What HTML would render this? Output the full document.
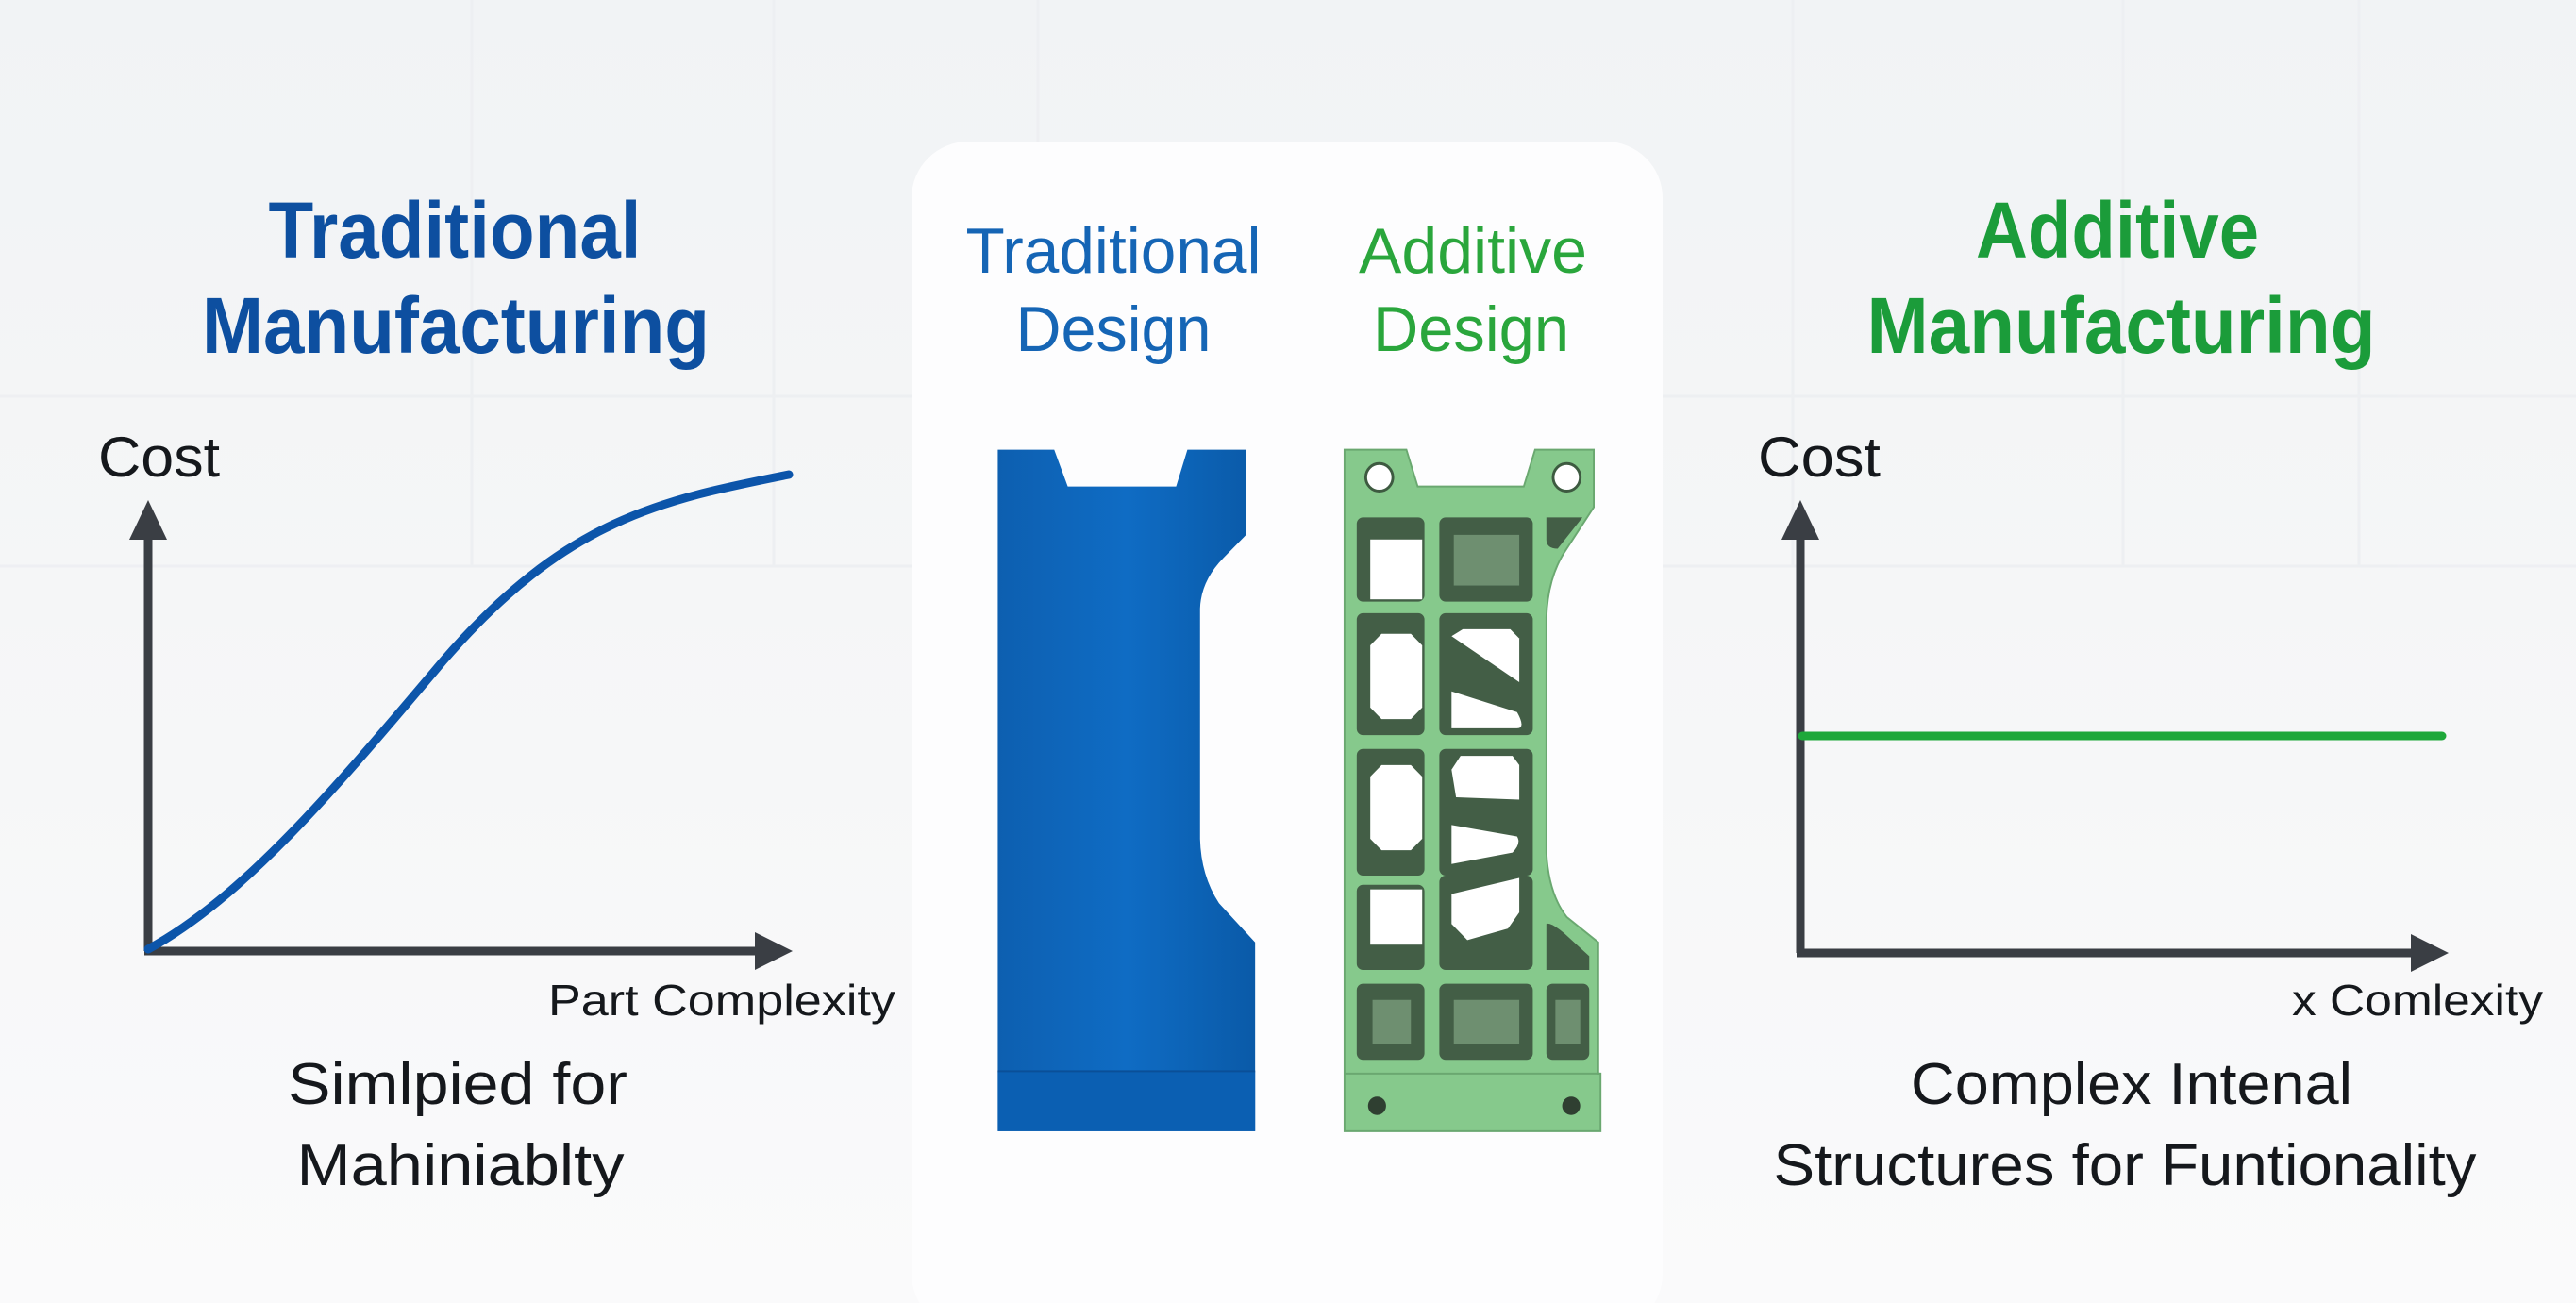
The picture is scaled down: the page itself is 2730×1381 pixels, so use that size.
<!DOCTYPE html>
<html><head><meta charset="utf-8"><style>
html,body{margin:0;padding:0;width:2730px;height:1381px;overflow:hidden;background:#f6f7f8}
svg{display:block}
text{font-family:"Liberation Sans",sans-serif}
</style></head><body>
<svg width="2730" height="1381" viewBox="0 0 2730 1381" xmlns="http://www.w3.org/2000/svg">
<defs>
<linearGradient id="bg" x1="0" y1="0" x2="0" y2="1">
<stop offset="0" stop-color="#f1f3f5"/><stop offset="0.45" stop-color="#f5f6f7"/><stop offset="1" stop-color="#fafafb"/>
</linearGradient>
<linearGradient id="blu" x1="0" y1="0" x2="1" y2="0">
<stop offset="0" stop-color="#0d5fb0"/><stop offset="0.5" stop-color="#0f6cc4"/><stop offset="1" stop-color="#0a5aa8"/>
</linearGradient>
</defs>
<rect width="2730" height="1381" fill="url(#bg)"/>
<g stroke="#eceef1" stroke-width="3" fill="none" opacity="0.8">
<path d="M500 0V600M820 0V600M1100 0V500M1900 0V600M2250 0V600M2500 0V600"/>
<path d="M0 600H2730M0 420H2730" />
</g>
<rect x="966" y="150" width="796" height="1260" rx="60" fill="#fdfdfe"/>

<!-- Left -->
<g font-weight="bold" fill="#0d4fa0" font-size="84" text-anchor="middle">
<text x="482" y="273" textLength="395" lengthAdjust="spacingAndGlyphs">Traditional</text>
<text x="483" y="374" textLength="538" lengthAdjust="spacingAndGlyphs">Manufacturing</text>
</g>
<g fill="#15181c">
<text x="104" y="505" font-size="60" textLength="129" lengthAdjust="spacingAndGlyphs">Cost</text>
<text x="581" y="1076" font-size="46" textLength="368" lengthAdjust="spacingAndGlyphs">Part Complexity</text>
<text x="485" y="1170" font-size="62" text-anchor="middle" textLength="360" lengthAdjust="spacingAndGlyphs">Simlpied for</text>
<text x="488" y="1256" font-size="62" text-anchor="middle" textLength="347" lengthAdjust="spacingAndGlyphs">Mahiniablty</text>
</g>
<g stroke="#3a3e44" stroke-width="9" fill="none">
<path d="M157 1008 V555"/><path d="M153 1008 H815"/>
</g>
<path d="M157 530 L137 572 L177 572 Z" fill="#3a3e44"/>
<path d="M840 1008 L800 988 L800 1028 Z" fill="#3a3e44"/>
<path d="M157 1006 C260 950 360 830 470 700 C600 550 700 530 836 503" stroke="#0c55aa" stroke-width="9" fill="none" stroke-linecap="round"/>

<!-- Right -->
<g font-weight="bold" fill="#1b9c3a" font-size="84" text-anchor="middle">
<text x="2244" y="273" textLength="300" lengthAdjust="spacingAndGlyphs">Additive</text>
<text x="2248" y="374" textLength="539" lengthAdjust="spacingAndGlyphs">Manufacturing</text>
</g>
<g fill="#15181c">
<text x="1863" y="505" font-size="60" textLength="130" lengthAdjust="spacingAndGlyphs">Cost</text>
<text x="2429" y="1076" font-size="46" textLength="266" lengthAdjust="spacingAndGlyphs">x Comlexity</text>
<text x="2259" y="1170" font-size="62" text-anchor="middle" textLength="468" lengthAdjust="spacingAndGlyphs">Complex Intenal</text>
<text x="2252" y="1256" font-size="62" text-anchor="middle" textLength="745" lengthAdjust="spacingAndGlyphs">Structures for Funtionality</text>
</g>
<g stroke="#3a3e44" stroke-width="9" fill="none">
<path d="M1908 1010 V555"/><path d="M1904 1010 H2570"/>
</g>
<path d="M1908 530 L1888 572 L1928 572 Z" fill="#3a3e44"/>
<path d="M2595 1010 L2555 990 L2555 1030 Z" fill="#3a3e44"/>
<path d="M1910 780 H2588" stroke="#1ea83a" stroke-width="9" stroke-linecap="round"/>

<!-- Center titles -->
<g font-size="68" text-anchor="middle">
<text x="1180" y="289" fill="#1565b5" textLength="313" lengthAdjust="spacingAndGlyphs">Traditional</text>
<text x="1180" y="372" fill="#1565b5" textLength="207" lengthAdjust="spacingAndGlyphs">Design</text>
<text x="1561" y="289" fill="#2aa63c" textLength="242" lengthAdjust="spacingAndGlyphs">Additive</text>
<text x="1559" y="372" fill="#2aa63c" textLength="208" lengthAdjust="spacingAndGlyphs">Design</text>
</g>

<!-- Parts drawn in zoom coords -->
<g transform="translate(1000,440) scale(0.4785,0.488)">
<path d="M120 75 H245 L275 155 H515 L540 75 H670 V260 L620 310 Q570 360 568 420 V920 Q570 1000 610 1060 L690 1145 V1555 H120 Z" fill="url(#blu)"/>
<rect x="120" y="1425" width="570" height="130" fill="#0b5fb2"/>
<line x1="120" y1="1425" x2="690" y2="1425" stroke="#0a4f98" stroke-width="4"/>

<path d="M888 75 H1025 L1050 155 H1285 L1310 75 H1440 V200 L1380 290 Q1338 350 1335 440 V950 Q1340 1040 1380 1090 L1450 1145 V1430 H1455 V1555 H888 Z" fill="#86c98c" stroke="#6aa870" stroke-width="4"/>
<line x1="888" y1="1430" x2="1455" y2="1430" stroke="#6aa870" stroke-width="4"/>
<circle cx="965" cy="135" r="30" fill="#fff" stroke="#3d5a40" stroke-width="6"/>
<circle cx="1380" cy="135" r="30" fill="#fff" stroke="#3d5a40" stroke-width="6"/>
<circle cx="960" cy="1500" r="20" fill="#2f3f31"/>
<circle cx="1390" cy="1500" r="20" fill="#2f3f31"/>
<g fill="#435e46">
<rect x="915" y="222" width="150" height="183" rx="14"/>
<rect x="1098" y="222" width="207" height="183" rx="14"/>
<path d="M1335 222 H1415 L1360 290 Q1335 290 1335 270 Z"/>
<rect x="915" y="430" width="150" height="265" rx="14"/>
<rect x="1098" y="430" width="207" height="265" rx="14"/>
<rect x="915" y="725" width="150" height="275" rx="14"/>
<rect x="1098" y="725" width="207" height="275" rx="14"/>
<rect x="915" y="1020" width="150" height="185" rx="14"/>
<rect x="1098" y="1000" width="207" height="205" rx="14"/>
<path d="M1335 1105 Q1345 1100 1380 1130 L1430 1175 V1205 H1335 Z"/>
<rect x="915" y="1235" width="150" height="165" rx="14"/>
<rect x="1098" y="1235" width="207" height="165" rx="14"/>
<rect x="1335" y="1235" width="95" height="165" rx="14"/>
</g>
<g fill="#6e8f70">
<rect x="1130" y="260" width="145" height="110"/>
<rect x="950" y="1270" width="85" height="95"/>
<rect x="1130" y="1270" width="145" height="95"/>
<rect x="1355" y="1270" width="55" height="95"/>
</g>
<g fill="#ffffff">
<rect x="945" y="270" width="115" height="130"/>
<path d="M970 475 H1035 L1060 500 V635 L1035 660 H970 L945 635 V500 Z"/>
<path d="M1125 480 L1150 465 H1255 L1275 485 V580 Z"/>
<path d="M1125 600 L1270 645 Q1290 680 1270 680 H1125 Z"/>
<path d="M970 760 H1035 L1060 785 V920 L1035 945 H970 L945 920 V785 Z"/>
<path d="M1125 770 L1145 740 H1260 L1275 760 V835 L1135 830 Z"/>
<path d="M1125 890 L1270 915 Q1280 930 1260 950 L1125 975 Z"/>
<rect x="945" y="1030" width="115" height="120"/>
<path d="M1125 1040 L1275 1005 V1080 L1250 1115 L1160 1140 L1125 1105 Z"/>
</g>
</g>
</svg>
</body></html>
